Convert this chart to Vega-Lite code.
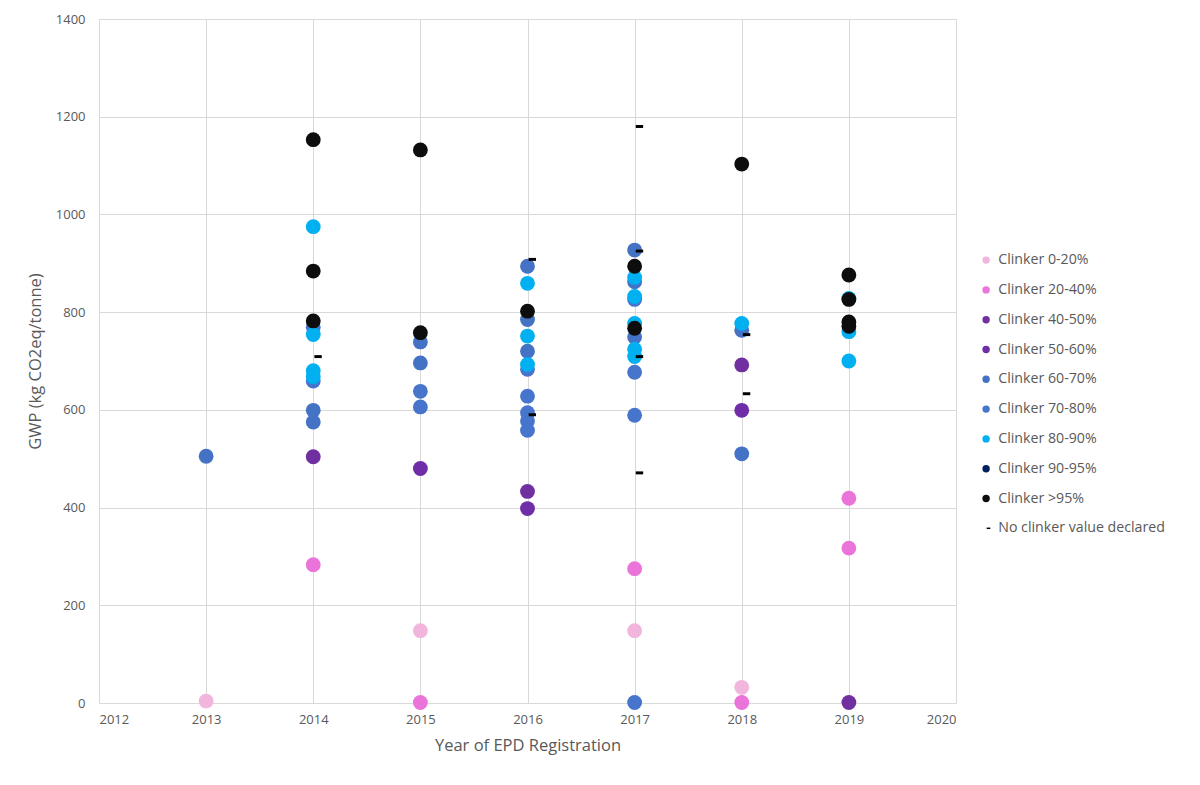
{
  "$schema": "https://vega.github.io/schema/vega-lite/v6.json",
  "width": 857,
  "height": 684,
  "autosize": {"type": "none"},
  "padding": {"left": 99, "top": 19, "right": 244, "bottom": 82},
  "background": "white",
  "config": {
    "view": {"stroke": null},
    "font": "Open Sans",
    "axis": {
      "gridColor": "#D9D9D9",
      "gridWidth": 1,
      "domain": false,
      "ticks": false,
      "tickSize": 0,
      "labelColor": "#595959",
      "labelFontSize": 13,
      "titleColor": "#595959",
      "titleFontSize": 16.5,
      "titleFontWeight": "normal"
    }
  },
  "data": {
    "values": [
      {"year": 2013, "gwp": 4, "cat": "Clinker 0-20%"},
      {"year": 2015, "gwp": 148, "cat": "Clinker 0-20%"},
      {"year": 2017, "gwp": 148, "cat": "Clinker 0-20%"},
      {"year": 2018, "gwp": 32, "cat": "Clinker 0-20%"},
      {"year": 2014, "gwp": 283, "cat": "Clinker 20-40%"},
      {"year": 2015, "gwp": 1, "cat": "Clinker 20-40%"},
      {"year": 2017, "gwp": 275, "cat": "Clinker 20-40%"},
      {"year": 2018, "gwp": 1, "cat": "Clinker 20-40%"},
      {"year": 2019, "gwp": 419, "cat": "Clinker 20-40%"},
      {"year": 2019, "gwp": 317, "cat": "Clinker 20-40%"},
      {"year": 2014, "gwp": 504, "cat": "Clinker 40-50%"},
      {"year": 2016, "gwp": 433, "cat": "Clinker 40-50%"},
      {"year": 2018, "gwp": 692, "cat": "Clinker 40-50%"},
      {"year": 2019, "gwp": 1, "cat": "Clinker 40-50%"},
      {"year": 2015, "gwp": 480, "cat": "Clinker 50-60%"},
      {"year": 2016, "gwp": 398, "cat": "Clinker 50-60%"},
      {"year": 2018, "gwp": 599, "cat": "Clinker 50-60%"},
      {"year": 2013, "gwp": 505, "cat": "Clinker 60-70%"},
      {"year": 2014, "gwp": 599, "cat": "Clinker 60-70%"},
      {"year": 2014, "gwp": 575, "cat": "Clinker 60-70%"},
      {"year": 2015, "gwp": 739, "cat": "Clinker 60-70%"},
      {"year": 2015, "gwp": 696, "cat": "Clinker 60-70%"},
      {"year": 2016, "gwp": 894, "cat": "Clinker 60-70%"},
      {"year": 2016, "gwp": 785, "cat": "Clinker 60-70%"},
      {"year": 2016, "gwp": 720, "cat": "Clinker 60-70%"},
      {"year": 2017, "gwp": 927, "cat": "Clinker 60-70%"},
      {"year": 2017, "gwp": 862, "cat": "Clinker 60-70%"},
      {"year": 2017, "gwp": 749, "cat": "Clinker 60-70%"},
      {"year": 2018, "gwp": 763, "cat": "Clinker 60-70%"},
      {"year": 2018, "gwp": 510, "cat": "Clinker 60-70%"},
      {"year": 2014, "gwp": 769, "cat": "Clinker 70-80%"},
      {"year": 2014, "gwp": 659, "cat": "Clinker 70-80%"},
      {"year": 2015, "gwp": 638, "cat": "Clinker 70-80%"},
      {"year": 2015, "gwp": 606, "cat": "Clinker 70-80%"},
      {"year": 2016, "gwp": 683, "cat": "Clinker 70-80%"},
      {"year": 2016, "gwp": 628, "cat": "Clinker 70-80%"},
      {"year": 2016, "gwp": 594, "cat": "Clinker 70-80%"},
      {"year": 2016, "gwp": 577, "cat": "Clinker 70-80%"},
      {"year": 2016, "gwp": 558, "cat": "Clinker 70-80%"},
      {"year": 2017, "gwp": 826, "cat": "Clinker 70-80%"},
      {"year": 2017, "gwp": 677, "cat": "Clinker 70-80%"},
      {"year": 2017, "gwp": 589, "cat": "Clinker 70-80%"},
      {"year": 2017, "gwp": 1, "cat": "Clinker 70-80%"},
      {"year": 2014, "gwp": 975, "cat": "Clinker 80-90%"},
      {"year": 2014, "gwp": 754, "cat": "Clinker 80-90%"},
      {"year": 2014, "gwp": 680, "cat": "Clinker 80-90%"},
      {"year": 2014, "gwp": 668, "cat": "Clinker 80-90%"},
      {"year": 2016, "gwp": 859, "cat": "Clinker 80-90%"},
      {"year": 2016, "gwp": 751, "cat": "Clinker 80-90%"},
      {"year": 2016, "gwp": 693, "cat": "Clinker 80-90%"},
      {"year": 2017, "gwp": 871, "cat": "Clinker 80-90%"},
      {"year": 2017, "gwp": 832, "cat": "Clinker 80-90%"},
      {"year": 2017, "gwp": 777, "cat": "Clinker 80-90%"},
      {"year": 2017, "gwp": 724, "cat": "Clinker 80-90%"},
      {"year": 2017, "gwp": 709, "cat": "Clinker 80-90%"},
      {"year": 2018, "gwp": 777, "cat": "Clinker 80-90%"},
      {"year": 2019, "gwp": 828, "cat": "Clinker 80-90%"},
      {"year": 2019, "gwp": 760, "cat": "Clinker 80-90%"},
      {"year": 2019, "gwp": 700, "cat": "Clinker 80-90%"},
      {"year": 2014, "gwp": 1153, "cat": "Clinker >95%"},
      {"year": 2014, "gwp": 884, "cat": "Clinker >95%"},
      {"year": 2014, "gwp": 782, "cat": "Clinker >95%"},
      {"year": 2015, "gwp": 1132, "cat": "Clinker >95%"},
      {"year": 2015, "gwp": 758, "cat": "Clinker >95%"},
      {"year": 2016, "gwp": 802, "cat": "Clinker >95%"},
      {"year": 2017, "gwp": 894, "cat": "Clinker >95%"},
      {"year": 2017, "gwp": 767, "cat": "Clinker >95%"},
      {"year": 2018, "gwp": 1103, "cat": "Clinker >95%"},
      {"year": 2019, "gwp": 876, "cat": "Clinker >95%"},
      {"year": 2019, "gwp": 826, "cat": "Clinker >95%"},
      {"year": 2019, "gwp": 780, "cat": "Clinker >95%"},
      {"year": 2019, "gwp": 771, "cat": "Clinker >95%"},
      {"year": 2014, "gwp": 709, "cat": "No clinker value declared"},
      {"year": 2016, "gwp": 908, "cat": "No clinker value declared"},
      {"year": 2016, "gwp": 590, "cat": "No clinker value declared"},
      {"year": 2017, "gwp": 1180, "cat": "No clinker value declared"},
      {"year": 2017, "gwp": 925, "cat": "No clinker value declared"},
      {"year": 2017, "gwp": 709, "cat": "No clinker value declared"},
      {"year": 2017, "gwp": 471, "cat": "No clinker value declared"},
      {"year": 2018, "gwp": 754, "cat": "No clinker value declared"},
      {"year": 2018, "gwp": 633, "cat": "No clinker value declared"}
    ]
  },
  "mark": {"type": "point", "filled": true, "opacity": 1, "size": 220, "strokeWidth": 0},
  "encoding": {
    "x": {
      "field": "year",
      "type": "quantitative",
      "scale": {"domain": [2012, 2020], "nice": false, "zero": false},
      "axis": {
        "values": [2012, 2013, 2014, 2015, 2016, 2017, 2018, 2019, 2020],
        "format": "d",
        "title": "Year of EPD Registration",
        "labelPadding": 10,
        "titlePadding": 11
      }
    },
    "y": {
      "field": "gwp",
      "type": "quantitative",
      "scale": {"domain": [0, 1400], "nice": false},
      "axis": {
        "values": [0, 200, 400, 600, 800, 1000, 1200, 1400],
        "format": "d",
        "title": "GWP (kg CO2eq/tonne)",
        "labelPadding": 14,
        "titlePadding": 12
      }
    },
    "color": {
      "field": "cat",
      "type": "nominal",
      "scale": {
        "domain": ["Clinker 0-20%", "Clinker 20-40%", "Clinker 40-50%", "Clinker 50-60%", "Clinker 60-70%", "Clinker 70-80%", "Clinker 80-90%", "Clinker 90-95%", "Clinker >95%", "No clinker value declared"],
        "range": ["#F2B5DE", "#EB74DA", "#7030A0", "#6F2DA8", "#4472C4", "#4775CC", "#00B0F0", "#002060", "#0D0D0D", "#000000"]
      },
      "legend": {
        "title": null,
        "orient": "none",
        "legendX": 880,
        "legendY": 234,
        "padding": 0,
        "labelFontSize": 14.2,
        "labelColor": "#595959",
        "labelOffset": 5,
        "labelLimit": 300,
        "symbolSize": 55,
        "rowPadding": 14.8,
        "symbolStrokeWidth": 0
      }
    },
    "shape": {
      "field": "cat",
      "type": "nominal",
      "scale": {
        "domain": ["Clinker 0-20%", "Clinker 20-40%", "Clinker 40-50%", "Clinker 50-60%", "Clinker 60-70%", "Clinker 70-80%", "Clinker 80-90%", "Clinker 90-95%", "Clinker >95%", "No clinker value declared"],
        "range": ["circle", "circle", "circle", "circle", "circle", "circle", "circle", "circle", "circle", "M0.15,-0.2H1.15V0.2H0.15Z"]
      },
      "legend": {
        "title": null,
        "orient": "none",
        "legendX": 880,
        "legendY": 234,
        "padding": 0,
        "labelFontSize": 14.2,
        "labelColor": "#595959",
        "labelOffset": 5,
        "labelLimit": 300,
        "symbolSize": 55,
        "rowPadding": 14.8,
        "symbolStrokeWidth": 0
      }
    }
  }
}
